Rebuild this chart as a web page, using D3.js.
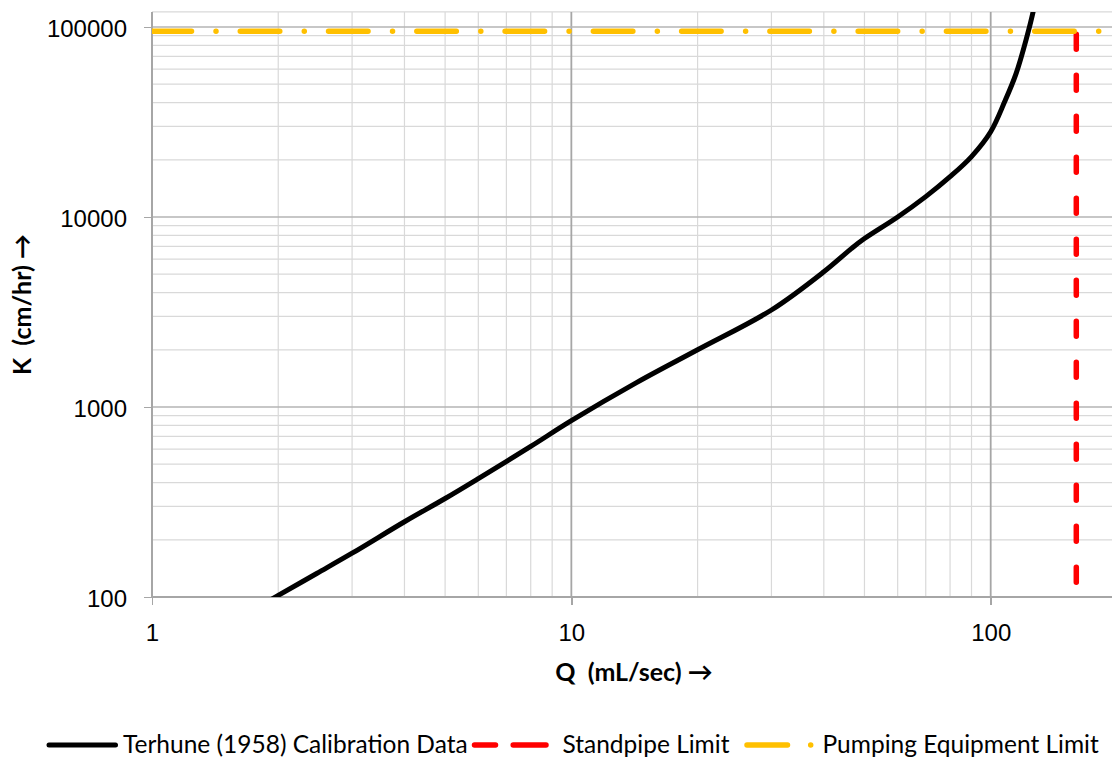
<!DOCTYPE html>
<html lang="en">
<head>
<meta charset="UTF-8">
<title>K vs Q calibration</title>
<script src="https://d3js.org/d3.v7.min.js"></script>
<style>
  body { margin: 0; background: #fff; }
  svg { display: block; font-family: Lato, "Open Sans", sans-serif; }
  .axis text { font-size: 24px; fill: #000; }
  .axis path, .axis line { stroke: #a6a6a6; stroke-width: 1.5; shape-rendering: crispEdges; }
  .title { font-size: 25px; font-weight: bold; fill: #000; white-space: pre; }
  .legend text { font-size: 24.5px; fill: #000; }
</style>
</head>
<body>
<svg id="chart" width="1112" height="758"></svg>
<script>
// Terhune (1958) calibration curve
var flowQ    = [1.9, 2, 2.47, 3, 4, 5, 6, 8, 10, 14.3, 20, 30, 40, 46.6, 50, 60, 70, 80, 90, 100, 108, 115, 122, 126.4, 130];
var conductK = [95.5, 102, 133, 170, 249, 330, 420, 620, 847, 1343, 2000, 3240, 5150, 6840, 7700, 10000, 12800, 16300, 20800, 28100, 40500, 57000, 89000, 122000, 171000];

var standpipeQ = 160;      // mL/sec
var pumpLimitK = 95000;    // cm/hr

var xTickValues = [1, 10, 100];
var yTickValues = [100, 1000, 10000, 100000];
var xDomain = [1, 200];
var yDomain = [100, 120000];

var legendLabels = ["Terhune (1958) Calibration Data", "Standpipe Limit", "Pumping Equipment Limit"];

// plot area
var plotLeft = 152, plotRight = 1112, plotBottom = 597, decadeX = 419.35, decadeY = 190;

var x = d3.scaleLog()
    .domain(xDomain)
    .range([plotLeft, plotLeft + decadeX * Math.log10(xDomain[1] / xDomain[0])]);

var y = d3.scaleLog()
    .domain(yDomain)
    .range([plotBottom, plotBottom - decadeY * Math.log10(yDomain[1] / yDomain[0])]);

var plotTop = y(yDomain[1]);

var svg = d3.select("#chart");

svg.append("clipPath").attr("id", "plot-clip")
    .append("rect")
    .attr("x", plotLeft).attr("y", plotTop)
    .attr("width", plotRight - plotLeft).attr("height", plotBottom - plotTop);

// minor grid positions: 2..9 within each decade
function minors(domain) {
    var out = [];
    for (var d = domain[0]; d < domain[1]; d *= 10) {
        for (var m = 2; m <= 9; m++) {
            if (d * m <= domain[1]) out.push(d * m);
        }
    }
    return out;
}

var grid = svg.append("g");

grid.selectAll(".xminor")
    .data(minors(xDomain))
    .enter().append("line")
    .attr("x1", function (d) { return x(d); })
    .attr("x2", function (d) { return x(d); })
    .attr("y1", plotTop).attr("y2", plotBottom)
    .attr("stroke", "#d9d9d9").attr("stroke-width", 1.2);

grid.selectAll(".yminor")
    .data(minors(yDomain))
    .enter().append("line")
    .attr("y1", function (d) { return y(d); })
    .attr("y2", function (d) { return y(d); })
    .attr("x1", plotLeft).attr("x2", plotRight)
    .attr("stroke", "#d9d9d9").attr("stroke-width", 1.2);

// top border of the plot area
grid.append("line")
    .attr("x1", plotLeft).attr("x2", plotRight)
    .attr("y1", plotTop).attr("y2", plotTop)
    .attr("stroke", "#d9d9d9").attr("stroke-width", 1.2);

grid.selectAll(".xmajor")
    .data(xTickValues)
    .enter().append("line")
    .attr("x1", function (d) { return x(d); })
    .attr("x2", function (d) { return x(d); })
    .attr("y1", plotTop).attr("y2", plotBottom)
    .attr("stroke", "#a6a6a6").attr("stroke-width", 1.8);

grid.selectAll(".ymajor")
    .data(yTickValues)
    .enter().append("line")
    .attr("y1", function (d) { return y(d); })
    .attr("y2", function (d) { return y(d); })
    .attr("x1", plotLeft).attr("x2", plotRight)
    .attr("stroke", "#b4b4b4").attr("stroke-width", 1.5);

// axes
var xAxis = svg.append("g")
    .attr("class", "axis")
    .attr("transform", "translate(0," + plotBottom + ")")
    .call(d3.axisBottom(x).tickValues(xTickValues).tickFormat(d3.format("d"))
        .tickSize(8).tickSizeOuter(0).tickPadding(19));
xAxis.select(".domain").attr("d", "M" + plotLeft + ",0H" + plotRight);

var yAxis = svg.append("g")
    .attr("class", "axis")
    .attr("transform", "translate(" + plotLeft + ",0)")
    .call(d3.axisLeft(y).tickValues(yTickValues).tickFormat(d3.format("d"))
        .tickSize(8).tickSizeOuter(0).tickPadding(17));
yAxis.selectAll("text").attr("dy", "0.38em");
yAxis.select(".domain").attr("d", "M0," + plotTop + "V" + plotBottom);

// series
var plot = svg.append("g").attr("clip-path", "url(#plot-clip)");

var curve = d3.line()
    .x(function (d) { return x(d[0]); })
    .y(function (d) { return y(d[1]); })
    .curve(d3.curveCatmullRom.alpha(0.5));

plot.append("path")
    .datum(d3.zip(flowQ, conductK))
    .attr("d", curve)
    .attr("fill", "none")
    .attr("stroke", "#000")
    .attr("stroke-width", 5)
    .attr("stroke-linejoin", "round")
    .attr("stroke-linecap", "round");

plot.append("line")
    .attr("x1", x(standpipeQ)).attr("x2", x(standpipeQ))
    .attr("y1", y(yDomain[1])).attr("y2", y(yDomain[0]))
    .attr("stroke", "#ff0000")
    .attr("stroke-width", 5.5)
    .attr("stroke-linecap", "round")
    .attr("stroke-dasharray", "15,26")
    .attr("stroke-dashoffset", 18.8);

plot.append("line")
    .attr("x1", x(xDomain[0])).attr("x2", x(xDomain[1]))
    .attr("y1", y(pumpLimitK)).attr("y2", y(pumpLimitK))
    .attr("stroke", "#ffc000")
    .attr("stroke-width", 5.5)
    .attr("stroke-linecap", "round")
    .attr("stroke-dasharray", "39.5,24.5,0.01,24.26");

// axis titles
svg.append("text")
    .attr("class", "title")
    .attr("x", 634).attr("y", 681)
    .attr("text-anchor", "middle")
    .text("Q  (mL/sec) \u2192");

svg.append("text")
    .attr("class", "title")
    .attr("transform", "translate(31," + ((plotTop + plotBottom) / 2) + ") rotate(-90)")
    .attr("text-anchor", "middle")
    .text("K  (cm/hr) \u2192");

// legend
var legend = svg.append("g").attr("class", "legend");
var ly = 745;

legend.append("line")
    .attr("x1", 49).attr("x2", 115.5).attr("y1", ly).attr("y2", ly)
    .attr("stroke", "#000").attr("stroke-width", 5).attr("stroke-linecap", "round");
legend.append("text").attr("x", 123).attr("y", ly + 8).text(legendLabels[0]);

legend.append("line")
    .attr("x1", 474.5).attr("x2", 546).attr("y1", ly).attr("y2", ly)
    .attr("stroke", "#ff0000").attr("stroke-width", 5.5).attr("stroke-linecap", "round")
    .attr("stroke-dasharray", "21,17.7,40,10");
legend.append("text").attr("x", 562.5).attr("y", ly + 8).text(legendLabels[1]);

legend.append("line")
    .attr("x1", 747).attr("x2", 810.7).attr("y1", ly).attr("y2", ly)
    .attr("stroke", "#ffc000").attr("stroke-width", 5.5).attr("stroke-linecap", "round")
    .attr("stroke-dasharray", "40.5,23.2,0.01,50");
legend.append("text").attr("x", 822.5).attr("y", ly + 8).text(legendLabels[2]);
</script>
</body>
</html>
